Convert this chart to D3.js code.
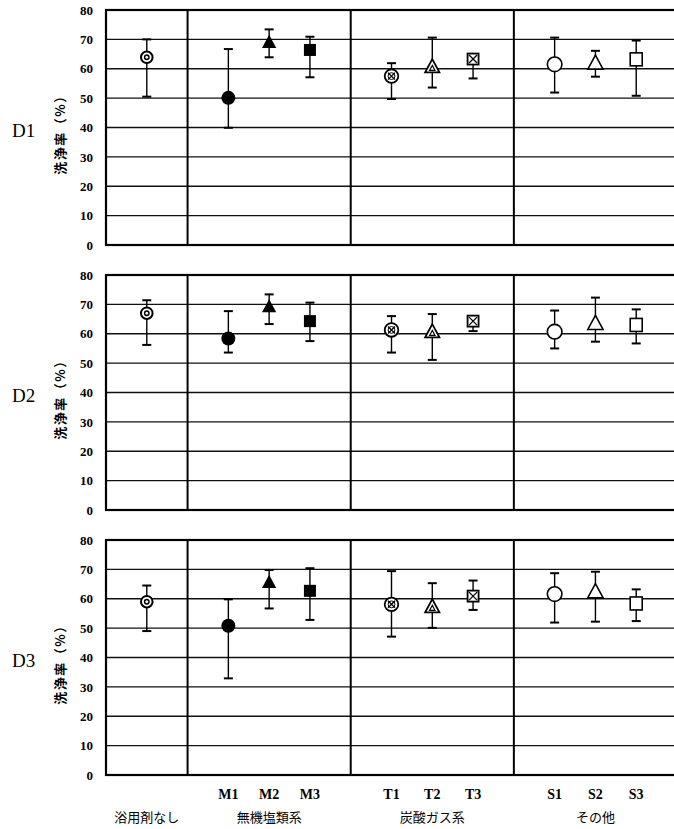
<!DOCTYPE html>
<html>
<head>
<meta charset="utf-8">
<script src="https://cdn.jsdelivr.net/npm/d3@7"></script>
<style>
  body { margin: 0; background: #fff; }
  svg { display: block; }
</style>
</head>
<body>
<div id="chart"></div>
<script>
// panels (one per soil type) and samples
const panels = ["D1", "D2", "D3"];
const samples = ["none", "M1", "M2", "M3", "T1", "T2", "T3", "S1", "S2", "S3"];
const groupNames = ["浴用剤なし", "無機塩類系", "炭酸ガス系", "その他"];
const groupMembers = [["none"], ["M1", "M2", "M3"], ["T1", "T2", "T3"], ["S1", "S2", "S3"]];
const yTicks = [0, 10, 20, 30, 40, 50, 60, 70, 80];

// mean and error bar range for each panel, in sample order
const d1Mean = [63.9, 50.1, 69.0, 66.4, 57.5, 60.7, 63.3, 61.5, 61.9, 63.2];
const d1Low  = [50.5, 39.9, 63.9, 57.1, 49.7, 53.6, 56.7, 51.9, 57.3, 50.8];
const d1High = [70.0, 66.7, 73.4, 70.9, 61.9, 70.6, 64.5, 70.6, 66.1, 69.6];

const d2Mean = [67.0, 58.4, 69.2, 64.3, 61.3, 60.7, 64.3, 60.7, 63.5, 63.0];
const d2Low  = [56.2, 53.6, 63.3, 57.5, 53.6, 51.1, 60.9, 55.0, 57.3, 56.7];
const d2High = [71.4, 67.7, 73.4, 70.6, 66.0, 66.7, 65.5, 67.9, 72.3, 68.3];

const d3Mean = [59.0, 50.8, 65.6, 62.7, 58.1, 57.3, 60.9, 61.6, 62.4, 58.4];
const d3Low  = [49.0, 32.9, 56.7, 52.8, 47.1, 50.1, 56.2, 51.9, 52.2, 52.4];
const d3High = [64.5, 59.8, 69.8, 70.4, 69.4, 65.3, 66.2, 68.7, 69.2, 63.2];

const means = [d1Mean, d2Mean, d3Mean];
const lows = [d1Low, d2Low, d3Low];
const highs = [d1High, d2High, d3High];

const width = 674, height = 829;
const panelTop = 10, panelHeight = 235, panelStep = 265;

const svg = d3.select("#chart").append("svg")
  .attr("width", width)
  .attr("height", height);

// slot index for each sample: one empty slot between groups
const slot = {};
const dividers = [];
let s = 0;
groupMembers.forEach(function(members, gi) {
  members.forEach(function(m) { slot[m] = s; s += 1; });
  if (gi < groupMembers.length - 1) { dividers.push(s); s += 1; }
});
const lastSlot = s;

const x = d3.scaleLinear()
  .domain([-1, lastSlot])
  .range([106, 677]);

const serif = "'Liberation Serif', 'DejaVu Serif', serif";
const jp = "'Noto Sans CJK JP', sans-serif";

panels.forEach(function(name, pi) {
  const top = panelTop + pi * panelStep;
  const y = d3.scaleLinear()
    .domain([0, 80])
    .range([top + panelHeight, top]);

  const g = svg.append("g");

  // horizontal grid lines
  g.selectAll(".grid")
    .data(yTicks.slice(1, -1))
    .enter()
    .append("line")
    .attr("x1", x(-1))
    .attr("x2", x(lastSlot))
    .attr("y1", d => y(d))
    .attr("y2", d => y(d))
    .attr("stroke", "#111")
    .attr("stroke-width", 1.4);

  // frame
  g.append("rect")
    .attr("x", x(-1))
    .attr("y", y(80))
    .attr("width", x(lastSlot) - x(-1))
    .attr("height", y(0) - y(80))
    .attr("fill", "none")
    .attr("stroke", "#000")
    .attr("stroke-width", 2.2);

  // group dividers
  g.selectAll(".divider")
    .data(dividers)
    .enter()
    .append("line")
    .attr("x1", d => x(d))
    .attr("x2", d => x(d))
    .attr("y1", y(0))
    .attr("y2", y(80))
    .attr("stroke", "#000")
    .attr("stroke-width", 2);

  // y axis
  const axis = g.append("g")
    .attr("transform", `translate(${x(-1)},0)`)
    .call(d3.axisLeft(y).tickValues(yTicks).tickSize(0).tickPadding(13));
  axis.select(".domain").remove();
  axis.selectAll("text")
    .attr("font-family", serif)
    .attr("font-weight", "bold")
    .attr("font-size", "13px")
    .attr("fill", "#000");

  // axis title
  g.append("text")
    .attr("transform", `translate(65,${top + panelHeight / 2 + 4}) rotate(-90)`)
    .attr("text-anchor", "middle")
    .attr("font-family", jp)
    .attr("font-weight", "bold")
    .attr("font-size", "13px")
    .attr("letter-spacing", "1.5px")
    .text("洗浄率（%）");

  // panel label
  g.append("text")
    .attr("x", 12)
    .attr("y", top + panelHeight / 2 + 9)
    .attr("font-family", serif)
    .attr("font-size", "19px")
    .text(name);

  // error bars
  samples.forEach(function(sm, i) {
    const cx = x(slot[sm]);
    const lo = lows[pi][i], hi = highs[pi][i];
    g.append("line")
      .attr("x1", cx).attr("x2", cx)
      .attr("y1", y(lo)).attr("y2", y(hi))
      .attr("stroke", "#000").attr("stroke-width", 1.4);
    [lo, hi].forEach(function(v) {
      g.append("line")
        .attr("x1", cx - 4.5).attr("x2", cx + 4.5)
        .attr("y1", y(v)).attr("y2", y(v))
        .attr("stroke", "#000").attr("stroke-width", 2);
    });
  });

  // markers
  samples.forEach(function(sm, i) {
    const m = g.append("g")
      .attr("transform", `translate(${x(slot[sm])},${y(means[pi][i])})`);
    drawMarker(m, sm);
  });
});

function tri(r) {
  return `M0,${-r} L${r * 0.95},${r * 0.75} L${-r * 0.95},${r * 0.75} Z`;
}

function drawMarker(m, sm) {
  const st = "#000";
  if (sm === "none") {
    m.append("circle").attr("r", 5.8).attr("fill", "#fff").attr("stroke", st).attr("stroke-width", 2);
    m.append("circle").attr("r", 2.2).attr("fill", "#fff").attr("stroke", st).attr("stroke-width", 1.5);
  } else if (sm === "M1") {
    m.append("circle").attr("r", 7).attr("fill", st);
  } else if (sm === "M2") {
    m.append("path").attr("d", tri(7.5)).attr("fill", st);
  } else if (sm === "M3") {
    m.append("rect").attr("x", -6).attr("y", -6).attr("width", 12).attr("height", 12).attr("fill", st);
  } else if (sm === "T1") {
    m.append("circle").attr("r", 6.8).attr("fill", "#fff").attr("stroke", st).attr("stroke-width", 1.8);
    m.append("path").attr("d", "M-3.5,-3.5 L3.5,3.5 M3.5,-3.5 L-3.5,3.5").attr("stroke", st).attr("stroke-width", 1.3);
    m.append("circle").attr("r", 3.4).attr("fill", "none").attr("stroke", st).attr("stroke-width", 1);
  } else if (sm === "T2") {
    m.append("path").attr("d", tri(7.5)).attr("fill", "#fff").attr("stroke", st).attr("stroke-width", 1.8);
    m.append("path").attr("d", tri(2.8)).attr("transform", "translate(0,1.5)").attr("fill", "#fff").attr("stroke", st).attr("stroke-width", 1.2);
  } else if (sm === "T3") {
    m.append("rect").attr("x", -5.5).attr("y", -5.5).attr("width", 11).attr("height", 11).attr("fill", "#fff").attr("stroke", st).attr("stroke-width", 1.8);
    m.append("path").attr("d", "M-4,-4 L4,4 M4,-4 L-4,4").attr("stroke", st).attr("stroke-width", 1.3);
  } else if (sm === "S1") {
    m.append("circle").attr("r", 7.3).attr("fill", "#fff").attr("stroke", st).attr("stroke-width", 1.6);
  } else if (sm === "S2") {
    m.append("path").attr("d", tri(8)).attr("fill", "#fff").attr("stroke", st).attr("stroke-width", 1.6);
  } else if (sm === "S3") {
    m.append("rect").attr("x", -6).attr("y", -6.5).attr("width", 12).attr("height", 13).attr("fill", "#fff").attr("stroke", st).attr("stroke-width", 1.6);
  }
}

// sample labels under the last panel
const labelY = panelTop + 2 * panelStep + panelHeight + 24;
svg.selectAll(".sample-label")
  .data(samples.filter(d => d !== "none"))
  .enter()
  .append("text")
  .attr("x", d => x(slot[d]))
  .attr("y", labelY)
  .attr("text-anchor", "middle")
  .attr("font-family", serif)
  .attr("font-weight", "bold")
  .attr("font-size", "14px")
  .text(d => d);

// group labels
svg.selectAll(".group-label")
  .data(groupMembers)
  .enter()
  .append("text")
  .attr("x", d => (x(slot[d[0]]) + x(slot[d[d.length - 1]])) / 2)
  .attr("y", labelY + 23)
  .attr("text-anchor", "middle")
  .attr("font-family", jp)
  .attr("font-size", "13px")
  .text((d, i) => groupNames[i]);
</script>
</body>
</html>
